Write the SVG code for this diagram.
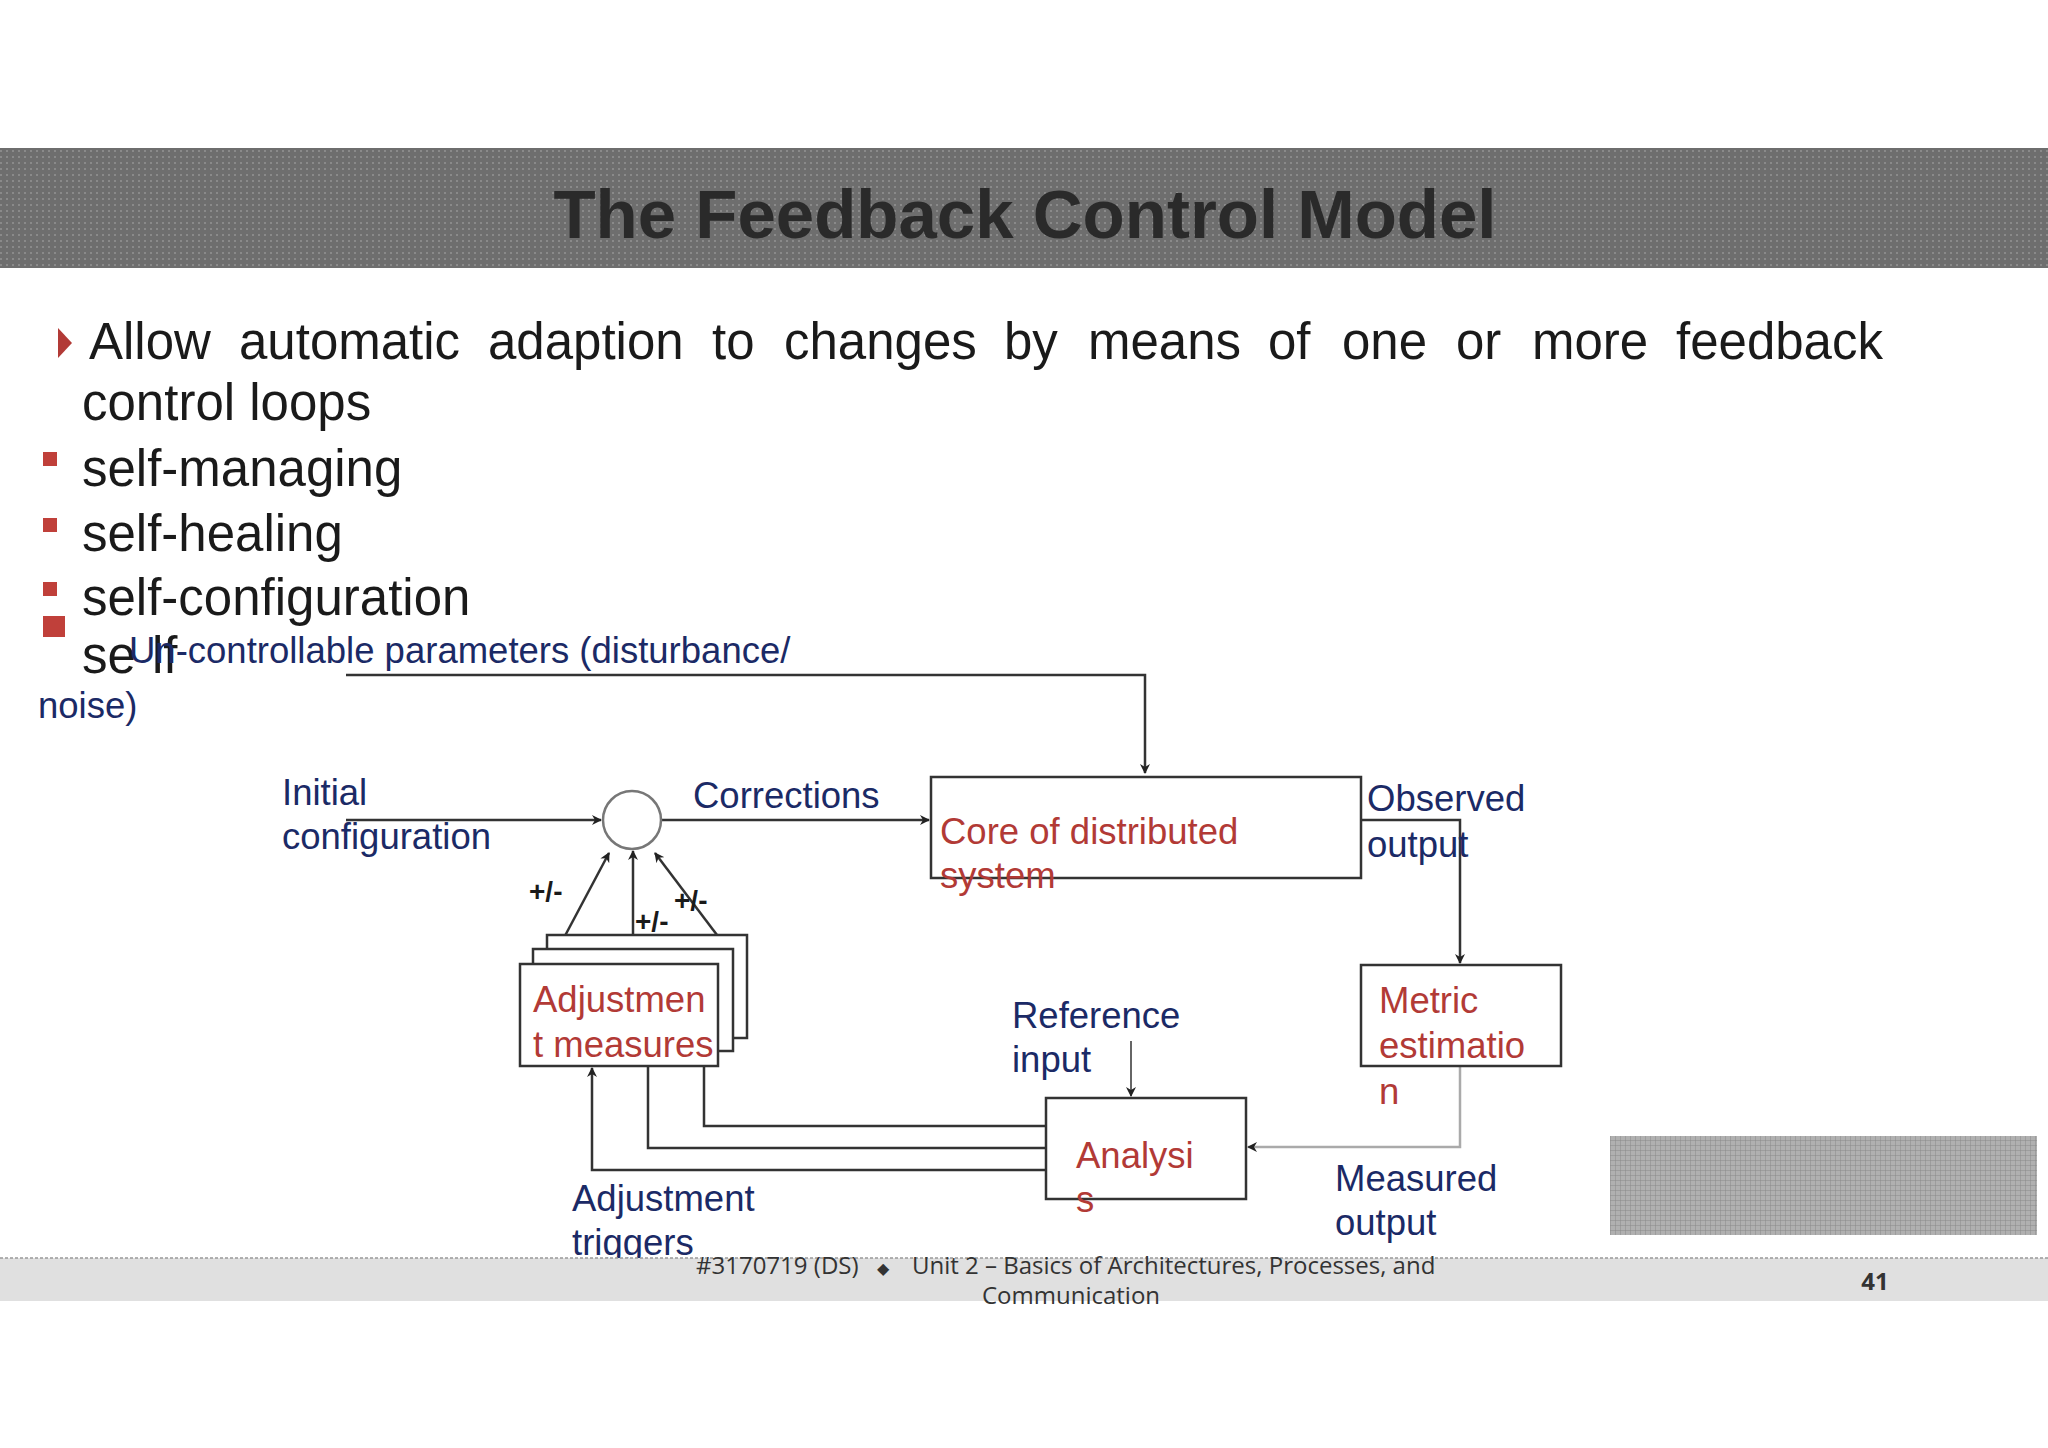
<svg xmlns="http://www.w3.org/2000/svg" width="2048" height="1448" viewBox="0 0 2048 1448">
<defs>
<marker id="ah" markerWidth="10" markerHeight="10" refX="9" refY="5" orient="auto" markerUnits="userSpaceOnUse"><path d="M0,0 L10,5 L0,10 L3,5 z" fill="#222"/></marker>
<pattern id="dots" width="6" height="6" patternUnits="userSpaceOnUse"><rect width="6" height="6" fill="#6e6e6e"/><rect width="2" height="2" fill="#8a8a8a"/></pattern>
<pattern id="grid" width="5" height="5" patternUnits="userSpaceOnUse"><rect width="5" height="5" fill="#b0b0b0"/><path d="M0,0H5M0,0V5" stroke="#8a8a8a" stroke-width="1"/></pattern>
<style>
.b{font-family:"Liberation Sans",Arial,sans-serif;font-size:36.5px;fill:#1b2a66}
.r{font-family:"Liberation Sans",Arial,sans-serif;font-size:36.5px;fill:#b23a36}
.bl{font-family:"Liberation Sans",Arial,sans-serif;font-size:51px;fill:#1a1a1a}
.pm{font-family:"Liberation Sans",Arial,sans-serif;font-size:28px;font-weight:bold;fill:#1a1a1a}
.box{fill:#fff;stroke:#333;stroke-width:2.5}
.ln{fill:none;stroke:#333;stroke-width:2.5}
.ft{font-family:"Open Sans","Liberation Sans",sans-serif;font-size:24px;fill:#333}
</style>
</defs>
<rect width="2048" height="1448" fill="#fff"/>
<rect x="0" y="148" width="2048" height="120" fill="url(#dots)"/>
<text x="1025" y="238" text-anchor="middle" font-family="Liberation Sans,Arial,sans-serif" font-size="69" font-weight="bold" fill="#2a2a2a">The Feedback Control Model</text>
<path d="M58,328 L72,343 L58,358 z" fill="#b23a36"/>
<text class="bl" y="359"><tspan x="89">Allow</tspan><tspan x="239">automatic</tspan><tspan x="488">adaption</tspan><tspan x="712">to</tspan><tspan x="784">changes</tspan><tspan x="1004">by</tspan><tspan x="1088">means</tspan><tspan x="1268">of</tspan><tspan x="1342">one</tspan><tspan x="1456">or</tspan><tspan x="1532">more</tspan><tspan x="1676">feedback</tspan></text>
<text class="bl" x="82" y="420">control loops</text>
<rect x="43" y="452" width="14" height="14" fill="#c0403a"/>
<rect x="43" y="518" width="14" height="14" fill="#c0403a"/>
<rect x="43" y="582" width="14" height="14" fill="#c0403a"/>
<rect x="43" y="616" width="22" height="21" fill="#c0403a"/>
<text class="bl" x="82" y="486">self-managing</text>
<text class="bl" x="82" y="551">self-healing</text>
<text class="bl" x="82" y="615">self-configuration</text>
<text class="bl" x="82" y="673" font-size="44">se</text>
<text class="bl" x="152" y="673" font-size="44">lf</text>
<text class="b" x="129" y="663">Un-controllable parameters (disturbance/</text>
<text class="b" x="38" y="718">noise)</text>
<g id="connectors">
<path class="ln" d="M346,675 H1145 V773" marker-end="url(#ah)"/>
<path class="ln" d="M346,820 H601" marker-end="url(#ah)"/>
<path class="ln" d="M661,820 H929" marker-end="url(#ah)"/>
<path class="ln" d="M1361,820 H1460 V963" marker-end="url(#ah)"/>
<path d="M1460,1066 V1147 H1248" fill="none" stroke="#aaa" stroke-width="2.5" marker-end="url(#ah)"/>
<path d="M1131,1041 V1096" fill="none" stroke="#333" stroke-width="1.5" marker-end="url(#ah)"/>
<path class="ln" d="M1046,1126 H704 V1066"/>
<path class="ln" d="M1046,1148 H648 V1066"/>
<path class="ln" d="M1046,1170 H592 V1068" marker-end="url(#ah)"/>
<path class="ln" d="M550,964 L609,853" marker-end="url(#ah)"/>
<path class="ln" d="M633,949 V851" marker-end="url(#ah)"/>
<path class="ln" d="M717,935 L655,853" marker-end="url(#ah)"/>
</g>
<g id="sum"><circle cx="632" cy="820" r="29" fill="#fff" stroke="#777" stroke-width="2.5"/></g>
<text class="b" x="282" y="805">Initial</text>
<text class="b" x="282" y="849">configuration</text>
<text class="b" x="693" y="808">Corrections</text>
<g id="core"><rect class="box" x="931" y="777" width="430" height="101"/>
<text class="r" x="940" y="844">Core of distributed</text><text class="r" x="940" y="888">system</text></g>
<text class="b" x="1367" y="811">Observed</text>
<text class="b" x="1367" y="857">output</text>
<g id="metric"><rect class="box" x="1361" y="965" width="200" height="101"/>
<text class="r" x="1379" y="1013">Metric</text><text class="r" x="1379" y="1058">estimatio</text><text class="r" x="1379" y="1104">n</text></g>
<g id="analysis"><rect class="box" x="1046" y="1098" width="200" height="101"/>
<text class="r" x="1076" y="1168">Analysi</text><text class="r" x="1076" y="1212">s</text></g>
<text class="b" x="1012" y="1028">Reference</text>
<text class="b" x="1012" y="1072">input</text>
<text class="b" x="1335" y="1191">Measured</text>
<text class="b" x="1335" y="1235">output</text>
<g id="adjust"><rect class="box" x="547" y="935" width="200" height="103"/>
<rect class="box" x="533" y="949" width="200" height="102"/>
<rect class="box" x="520" y="964" width="198" height="102"/>
<text class="r" x="533" y="1012">Adjustmen</text><text class="r" x="533" y="1057">t measures</text></g>
<text class="pm" x="529" y="901">+/-</text>
<text class="pm" x="635" y="931">+/-</text>
<text class="pm" x="674" y="910">+/-</text>
<text class="b" x="572" y="1211">Adjustment</text>
<text class="b" x="572" y="1255">triggers</text>
<rect x="0" y="1258" width="2048" height="43" fill="#e0e0e0"/>
<line x1="0" y1="1258" x2="2048" y2="1258" stroke="#999" stroke-width="1.5" stroke-dasharray="3,2"/>
<text class="ft" y="1274"><tspan x="696">#3170719 (DS)</tspan><tspan x="877" font-size="16">◆</tspan><tspan x="912">Unit 2 – Basics of Architectures, Processes, and</tspan></text>
<text class="ft" x="1071" y="1304" text-anchor="middle">Communication</text>
<text class="ft" x="1875" y="1290" text-anchor="middle" font-weight="bold" font-size="22">41</text>
<rect x="1610" y="1136" width="427" height="99" fill="url(#grid)"/>
</svg>
